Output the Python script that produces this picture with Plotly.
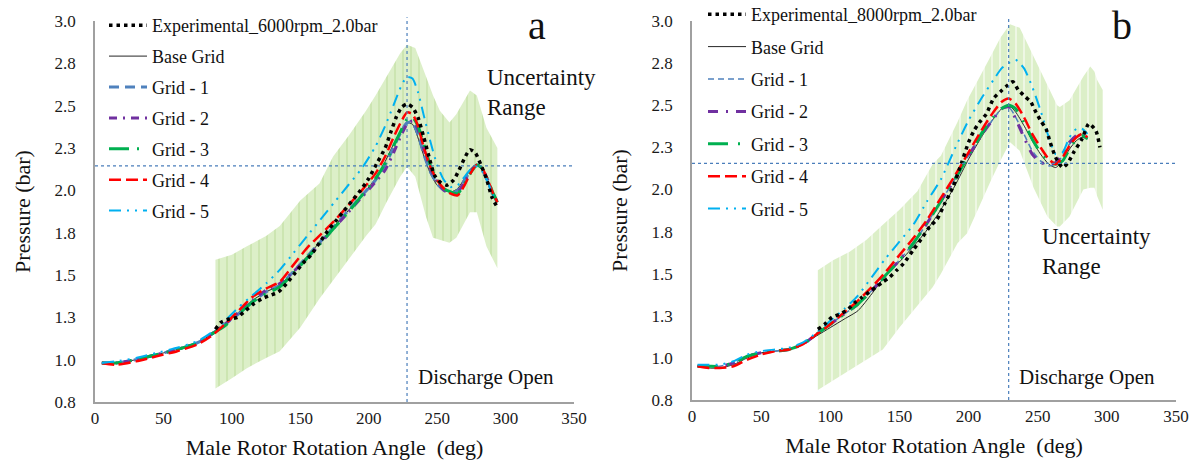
import plotly.graph_objects as go

FONT = "Liberation Serif"

# ---------------- Panel a (6000 rpm) ----------------
ANGLE_A = [5, 15, 30, 45, 60, 75, 85, 95, 105, 115, 125, 135, 145, 155, 165, 175, 185, 195, 205,
           212, 218, 224, 228, 232, 236, 240, 245, 250, 255, 260, 265, 270, 275, 279, 283, 287, 291, 294]
BASE_A = [0.98, 0.98, 1.00, 1.03, 1.06, 1.10, 1.15, 1.21, 1.28, 1.35, 1.40, 1.44, 1.52, 1.61, 1.70, 1.79, 1.88, 1.97, 2.07,
          2.17, 2.27, 2.36, 2.40, 2.39, 2.31, 2.21, 2.10, 2.03, 2.00, 1.99, 2.01, 2.07, 2.13, 2.15, 2.12, 2.05, 1.97, 1.93]
G1_A = [0.98, 0.98, 1.00, 1.03, 1.06, 1.10, 1.15, 1.21, 1.27, 1.34, 1.40, 1.44, 1.52, 1.61, 1.70, 1.79, 1.88, 1.97, 2.06,
        2.15, 2.25, 2.35, 2.40, 2.40, 2.33, 2.22, 2.11, 2.04, 2.00, 1.98, 2.00, 2.06, 2.12, 2.15, 2.12, 2.05, 1.97, 1.93]
G2_A = [0.98, 0.98, 1.00, 1.03, 1.06, 1.10, 1.15, 1.21, 1.28, 1.35, 1.41, 1.45, 1.52, 1.60, 1.69, 1.78, 1.87, 1.96, 2.05,
        2.12, 2.22, 2.33, 2.39, 2.41, 2.36, 2.25, 2.13, 2.05, 2.00, 1.98, 1.99, 2.05, 2.12, 2.15, 2.13, 2.06, 1.98, 1.93]
G3_A = [0.98, 0.98, 1.00, 1.03, 1.06, 1.10, 1.15, 1.20, 1.27, 1.34, 1.39, 1.43, 1.51, 1.60, 1.69, 1.78, 1.87, 1.97, 2.07,
        2.16, 2.26, 2.36, 2.42, 2.43, 2.38, 2.28, 2.15, 2.06, 2.01, 1.99, 1.98, 2.04, 2.11, 2.15, 2.13, 2.06, 1.98, 1.93]
G4_A = [0.98, 0.97, 0.99, 1.02, 1.05, 1.09, 1.14, 1.21, 1.29, 1.37, 1.42, 1.46, 1.56, 1.66, 1.74, 1.82, 1.91, 2.00, 2.10,
        2.20, 2.31, 2.41, 2.46, 2.45, 2.38, 2.26, 2.14, 2.06, 2.01, 1.98, 1.97, 2.03, 2.11, 2.15, 2.13, 2.06, 1.98, 1.93]
G5_A = [0.98, 0.99, 1.01, 1.04, 1.07, 1.11, 1.16, 1.23, 1.31, 1.38, 1.45, 1.53, 1.63, 1.73, 1.83, 1.93, 2.03, 2.13, 2.26,
        2.38, 2.50, 2.62, 2.67, 2.66, 2.58, 2.45, 2.29, 2.15, 2.06, 2.02, 2.03, 2.08, 2.13, 2.14, 2.11, 2.05, 1.97, 1.94]

EXP_ANGLE_A = [88, 92, 98, 104, 110, 116, 122, 128, 134, 140, 146, 152, 158, 164, 170, 176, 182, 188, 194, 200,
               206, 212, 216, 220, 224, 228, 232, 236, 240, 244, 248, 252, 257, 262, 266, 270, 274, 278, 282, 286, 290, 294]
EXP_A = [1.18, 1.22, 1.24, 1.25, 1.29, 1.33, 1.36, 1.38, 1.40, 1.45, 1.51, 1.57, 1.62, 1.69, 1.76, 1.82, 1.88, 1.94, 2.00, 2.07,
         2.16, 2.25, 2.34, 2.43, 2.49, 2.51, 2.49, 2.43, 2.32, 2.20, 2.09, 2.05, 2.03, 2.06, 2.12, 2.19, 2.24, 2.22, 2.15, 2.07, 1.96, 1.90]

BAND_ANGLE_A = [88, 100, 111, 125, 135, 150, 164, 174, 186, 198, 205, 213, 223, 228, 234, 242, 247, 252, 259, 264, 267, 274, 279, 286, 294]
BAND_UP_A = [1.59, 1.62, 1.67, 1.73, 1.79, 1.94, 2.04, 2.20, 2.33, 2.47, 2.56, 2.67, 2.81, 2.86, 2.84, 2.67, 2.56, 2.47, 2.40, 2.45, 2.49, 2.59, 2.56, 2.37, 2.25]
BAND_LO_A = [0.83, 0.89, 0.95, 1.01, 1.05, 1.19, 1.36, 1.47, 1.60, 1.73, 1.80, 1.93, 2.08, 2.14, 2.08, 1.84, 1.72, 1.71, 1.69, 1.72, 1.76, 1.87, 1.87, 1.67, 1.54]

# ---------------- Panel b (8000 rpm) ----------------
ANGLE_B = [4, 12, 20, 30, 40, 50, 60, 70, 80, 90, 100, 110, 120, 130, 140, 150, 160, 170, 180, 190, 200, 210,
           218, 224, 229, 234, 240, 246, 252, 258, 263, 268, 273, 278, 282, 286]
BASE_B = [0.95, 0.94, 0.94, 0.96, 1.00, 1.03, 1.04, 1.05, 1.08, 1.13, 1.18, 1.23, 1.28, 1.38, 1.49, 1.57, 1.66, 1.76, 1.88, 2.02, 2.18, 2.32,
          2.42, 2.48, 2.50, 2.46, 2.38, 2.29, 2.21, 2.15, 2.13, 2.17, 2.24, 2.29, 2.31, 2.30]
G1_B = [0.95, 0.95, 0.95, 0.97, 1.01, 1.03, 1.04, 1.05, 1.08, 1.14, 1.20, 1.26, 1.32, 1.40, 1.49, 1.58, 1.68, 1.80, 1.93, 2.06, 2.20, 2.33,
        2.42, 2.48, 2.49, 2.43, 2.33, 2.23, 2.17, 2.14, 2.15, 2.20, 2.27, 2.31, 2.32, 2.30]
G2_B = [0.95, 0.95, 0.95, 0.97, 1.01, 1.03, 1.04, 1.05, 1.08, 1.14, 1.20, 1.26, 1.32, 1.40, 1.49, 1.58, 1.68, 1.80, 1.93, 2.06, 2.20, 2.33,
        2.42, 2.48, 2.49, 2.42, 2.31, 2.21, 2.16, 2.15, 2.16, 2.21, 2.28, 2.32, 2.33, 2.30]
G3_B = [0.95, 0.95, 0.95, 0.97, 1.01, 1.03, 1.04, 1.05, 1.08, 1.14, 1.20, 1.26, 1.32, 1.40, 1.49, 1.58, 1.68, 1.80, 1.93, 2.06, 2.20, 2.34,
        2.43, 2.48, 2.50, 2.48, 2.40, 2.30, 2.22, 2.17, 2.15, 2.17, 2.24, 2.30, 2.32, 2.30]
G4_B = [0.95, 0.94, 0.94, 0.95, 0.99, 1.02, 1.04, 1.05, 1.08, 1.14, 1.20, 1.27, 1.34, 1.42, 1.51, 1.61, 1.71, 1.82, 1.95, 2.08, 2.22, 2.36,
        2.46, 2.52, 2.54, 2.51, 2.43, 2.33, 2.25, 2.18, 2.15, 2.19, 2.26, 2.31, 2.33, 2.31]
G5_B = [0.96, 0.96, 0.96, 0.98, 1.02, 1.04, 1.05, 1.06, 1.09, 1.15, 1.22, 1.29, 1.37, 1.48, 1.59, 1.69, 1.79, 1.93, 2.06, 2.24, 2.41, 2.55,
        2.65, 2.72, 2.75, 2.77, 2.72, 2.61, 2.47, 2.31, 2.21, 2.22, 2.31, 2.36, 2.36, 2.33]

EXP_ANGLE_B = [91, 96, 101, 107, 113, 118, 123, 128, 133, 138, 143, 148, 153, 160, 167, 172, 177, 183, 189, 195,
               200, 204, 208, 213, 218, 223, 227, 232, 236, 241, 245, 248, 252, 256, 259, 263, 268, 272, 276, 282, 287, 292, 295]
EXP_B = [1.17, 1.20, 1.24, 1.26, 1.29, 1.33, 1.36, 1.39, 1.42, 1.45, 1.48, 1.52, 1.56, 1.64, 1.72, 1.78, 1.82, 1.92, 2.02, 2.16,
         2.28, 2.35, 2.40, 2.45, 2.54, 2.58, 2.61, 2.64, 2.59, 2.55, 2.52, 2.47, 2.41, 2.36, 2.28, 2.19, 2.13, 2.16, 2.22, 2.30, 2.39, 2.35, 2.25]

BAND_ANGLE_B = [91, 102, 114, 126, 138, 150, 163, 174, 180, 192, 199, 211, 216, 223, 230, 237, 247, 257, 264, 266, 273, 283, 288, 291, 293, 297]
BAND_UP_B = [1.52, 1.58, 1.63, 1.70, 1.79, 1.88, 1.99, 2.15, 2.20, 2.40, 2.53, 2.72, 2.79, 2.90, 2.98, 2.96, 2.79, 2.61, 2.50, 2.49, 2.53, 2.67, 2.73, 2.70, 2.65, 2.59]
BAND_LO_B = [0.81, 0.87, 0.93, 0.99, 1.05, 1.18, 1.31, 1.42, 1.50, 1.68, 1.74, 1.96, 2.05, 2.17, 2.28, 2.23, 2.01, 1.84, 1.78, 1.78, 1.84, 2.00, 2.01, 2.01, 1.96, 1.88]

# ---------------- Axes / labels ----------------
Y_TICKS = [0.75, 1.0, 1.25, 1.5, 1.75, 2.0, 2.25, 2.5, 2.75, 3.0]
Y_TICK_TEXT = ["0.8", "1.0", "1.3", "1.5", "1.8", "2.0", "2.3", "2.5", "2.8", "3.0"]
X_TICKS = [0, 50, 100, 150, 200, 250, 300, 350]
SERIES_NAMES = ["Base Grid", "Grid - 1", "Grid - 2", "Grid - 3", "Grid - 4", "Grid - 5"]
EXP_NAME_A = "Experimental_6000rpm_2.0bar"
EXP_NAME_B = "Experimental_8000rpm_2.0bar"
DISCHARGE_A = 228
DISCHARGE_B = 229
REF_P_A = 2.145
REF_P_B = 2.155

STYLE_A = [
    dict(color="#262626", width=1, dash="solid"),
    dict(color="#4f81bd", width=3, dash="10px,6px"),
    dict(color="#7030a0", width=3, dash="8px,6px,2px,6px"),
    dict(color="#00b050", width=3, dash="20px,8px,2px,8px"),
    dict(color="#ff0000", width=2.5, dash="12px,5px"),
    dict(color="#00b0f0", width=2, dash="12px,6px,2px,6px,2px,6px"),
]
STYLE_B = [
    dict(color="#262626", width=1, dash="solid"),
    dict(color="#4f81bd", width=1.5, dash="6px,4px"),
    dict(color="#7030a0", width=3, dash="10px,8px,2px,8px"),
    dict(color="#00b050", width=3, dash="20px,10px,2px,10px"),
    dict(color="#ff0000", width=2.5, dash="12px,5px"),
    dict(color="#00b0f0", width=2, dash="12px,6px,2px,6px,2px,6px"),
]

fig = go.Figure()


def add_panel(xa, ya, leg, angles, sims, styles, exp_x, exp_y, exp_name,
              band_x, band_up, band_lo, stripe_color):
    # uncertainty band
    fig.add_trace(go.Scatter(
        x=list(band_x) + list(band_x)[::-1],
        y=list(band_up) + list(band_lo)[::-1],
        fill="toself", mode="lines", line=dict(width=0),
        fillcolor="#dcefc8",
        fillpattern=dict(shape="|", size=8, solidity=0.13,
                         fgcolor=stripe_color, bgcolor="#dcefc8", fgopacity=1),
        showlegend=False, hoverinfo="skip", xaxis=xa, yaxis=ya, legend=leg))
    for i, (name, vals, st) in enumerate(zip(SERIES_NAMES, sims, styles)):
        fig.add_trace(go.Scatter(
            x=angles, y=vals, mode="lines", name=name, line=dict(shape="spline", smoothing=0.6, **st),
            xaxis=xa, yaxis=ya, legend=leg, legendgroup=leg + name, legendrank=i + 2))
    fig.add_trace(go.Scatter(
        x=exp_x, y=exp_y, mode="lines", name=exp_name,
        line=dict(color="black", width=3.5, dash="3.5px,4px", shape="spline", smoothing=0.6),
        xaxis=xa, yaxis=ya, legend=leg, legendgroup=leg + "exp", legendrank=1))


add_panel("x", "y", "legend", ANGLE_A, [BASE_A, G1_A, G2_A, G3_A, G4_A, G5_A], STYLE_A,
          EXP_ANGLE_A, EXP_A, EXP_NAME_A, BAND_ANGLE_A, BAND_UP_A, BAND_LO_A, "#bddd9c")
add_panel("x2", "y2", "legend2", ANGLE_B, [BASE_B, G1_B, G2_B, G3_B, G4_B, G5_B], STYLE_B,
          EXP_ANGLE_B, EXP_B, EXP_NAME_B, BAND_ANGLE_B, BAND_UP_B, BAND_LO_B, "#ffffff")

W, H = 1196, 464
axis_common = dict(showline=True, linecolor="#a0a0a0", linewidth=1.5, showgrid=False, zeroline=False,
                   ticks="", automargin=False, tickfont=dict(family=FONT, size=17, color="#1a1a1a"))
xax = dict(range=[0, 350], tickvals=X_TICKS, **axis_common,
           title=dict(text="Male Rotor Rotation Angle  (deg)", font=dict(family=FONT, size=22, color="#111"), standoff=12))
yax = dict(range=[0.75, 3.0], tickvals=Y_TICKS, ticktext=Y_TICK_TEXT, **axis_common, ticklabelstandoff=14,
           title=dict(text="Pressure (bar)", font=dict(family=FONT, size=22, color="#111"), standoff=18))

fig.update_layout(
    width=W, height=H, margin=dict(l=0, r=0, t=0, b=0, autoexpand=False),
    paper_bgcolor="white", plot_bgcolor="white",
    font=dict(family=FONT),
    xaxis=dict(domain=[95 / W, 574 / W], anchor="y", **xax),
    yaxis=dict(domain=[1 - 402 / H, 1 - 21 / H], anchor="x", **yax),
    xaxis2=dict(domain=[692 / W, 1176 / W], anchor="y2", **xax),
    yaxis2=dict(domain=[1 - 400 / H, 1 - 21 / H], anchor="x2", **yax),
    legend=dict(x=104 / W, y=1 - 7 / H, xanchor="left", yanchor="top", bgcolor="rgba(0,0,0,0)",
                font=dict(family=FONT, size=18, color="#111"), itemwidth=38, tracegroupgap=4.5,
                traceorder="grouped"),
    legend2=dict(x=703 / W, y=1 + 4 / H, xanchor="left", yanchor="top", bgcolor="rgba(0,0,0,0)",
                 font=dict(family=FONT, size=18, color="#111"), itemwidth=38, tracegroupgap=6,
                 traceorder="grouped"),
    showlegend=True,
)

ref_line = dict(color="#4a7ebb", width=1.2, dash="3px,3px")
for xr, yr, xd, pd in [("x", "y", DISCHARGE_A, REF_P_A), ("x2", "y2", DISCHARGE_B, REF_P_B)]:
    fig.add_shape(type="line", xref=xr, yref=yr, x0=0, x1=350, y0=pd, y1=pd, line=ref_line)
    fig.add_shape(type="line", xref=xr, yref=yr + " domain", x0=xd, x1=xd, y0=0, y1=1.01, line=ref_line)

ann_font = dict(family=FONT, color="#111")


def label(x, y, text, size, xanchor="left"):
    fig.add_annotation(xref="paper", yref="paper", x=x / W, y=1 - y / H, text=text, showarrow=False,
                       xanchor=xanchor, yanchor="middle", align="left", font=dict(size=size, **ann_font))


label(537, 26, "a", 40, "center")
label(1122, 25, "b", 40, "center")
label(485, 92, "Uncertainty<br>Range", 23)
label(1040, 251, "Uncertainty<br>Range", 23)
label(416, 377, "Discharge Open", 21)
label(1017, 377, "Discharge Open", 21)

fig.write_html("out.html", config={"displayModeBar": False},
               post_script="document.body.style.margin='0px';")
